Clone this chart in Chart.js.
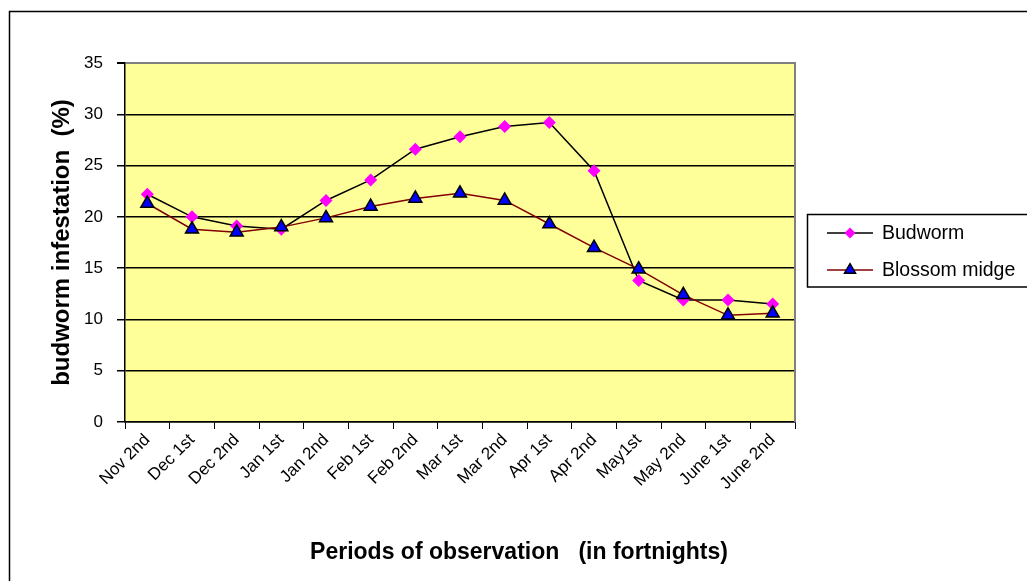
<!DOCTYPE html>
<html>
<head>
<meta charset="utf-8">
<title>Budworm infestation</title>
<script src="https://cdn.jsdelivr.net/npm/chart.js@4.4.1/dist/chart.umd.min.js"></script>
<style>
  html, body { margin: 0; padding: 0; background: #ffffff; }
  #wrap { width: 1027px; height: 581px; }
</style>
</head>
<body>
<div id="wrap"><canvas id="budwormChart" width="1027" height="581"></canvas></div>
<script>
// Categories (fortnights) and series values
const periods = ['Nov 2nd', 'Dec 1st', 'Dec 2nd', 'Jan 1st', 'Jan 2nd', 'Feb 1st', 'Feb 2nd', 'Mar 1st',
  'Mar 2nd', 'Apr 1st', 'Apr 2nd', 'May1st', 'May 2nd', 'June 1st', 'June 2nd'];
const budworm = [22.2, 20.0, 19.1, 18.8, 21.6, 23.6, 26.6, 27.8, 28.8, 29.2, 24.5, 13.8, 11.9, 11.9, 11.5];
const blossomMidge = [21.3, 18.8, 18.5, 19.0, 19.9, 21.0, 21.8, 22.3, 21.6, 19.3, 17.0, 14.9, 12.4, 10.4, 10.6];
const yTicks = [0, 5, 10, 15, 20, 25, 30, 35];
const xTitle = 'Periods of observation   (in fortnights)';
const yTitle = 'budworm infestation  (%)';

const FONT = 'Arial, "Liberation Sans", sans-serif';

// Plugin for the outer frame, the yellow plot area, the x title and the legend box
const framePlugin = {
  id: 'frame',
  beforeDraw(chart) {
    const { ctx, chartArea } = chart;
    ctx.save();
    ctx.fillStyle = '#ffffff';
    ctx.fillRect(0, 0, chart.width, chart.height);
    // outer chart border (runs off the right and bottom edge)
    ctx.strokeStyle = '#000000';
    ctx.lineWidth = 1.5;
    ctx.strokeRect(9.5, 11.5, 1200, 800);
    // plot background
    ctx.fillStyle = '#FFFF99';
    ctx.fillRect(chartArea.left, chartArea.top, chartArea.right - chartArea.left, chartArea.bottom - chartArea.top);
    ctx.restore();
  },
  beforeDatasetsDraw(chart) {
    const { ctx, chartArea } = chart;
    // grey right edge of the plot area
    ctx.save();
    ctx.strokeStyle = '#808080';
    ctx.lineWidth = 2;
    ctx.beginPath();
    ctx.moveTo(chartArea.right, chartArea.top - 1);
    ctx.lineTo(chartArea.right, chartArea.bottom);
    ctx.stroke();
    ctx.restore();
  },
  afterDraw(chart) {
    const { ctx } = chart;
    ctx.save();
    // x axis title (sits right of the plot centre in the original)
    ctx.fillStyle = '#000000';
    ctx.font = 'bold 23px ' + FONT;
    ctx.textAlign = 'center';
    ctx.textBaseline = 'middle';
    ctx.fillText(xTitle, 519, 553);

    // legend box
    ctx.strokeStyle = '#000000';
    ctx.lineWidth = 1.5;
    ctx.strokeRect(807.5, 214.5, 400, 72.5);
    const rows = [233, 270];
    chart.data.datasets.forEach((ds, i) => {
      const y = rows[i];
      ctx.strokeStyle = ds.borderColor;
      ctx.lineWidth = ds.borderWidth;
      ctx.beginPath();
      ctx.moveTo(827, y);
      ctx.lineTo(873, y);
      ctx.stroke();
      // marker
      ctx.fillStyle = ds.pointBackgroundColor;
      ctx.strokeStyle = ds.pointBorderColor;
      ctx.lineWidth = ds.pointBorderWidth;
      Chart.helpers.drawPoint(ctx, {
        pointStyle: ds.pointStyle,
        radius: ds.pointRadius * 0.85,
        borderWidth: ds.pointBorderWidth
      }, 850, y);
      // label
      ctx.fillStyle = '#000000';
      ctx.font = '19.5px ' + FONT;
      ctx.textBaseline = 'middle';
      ctx.textAlign = 'left';
      ctx.fillText(ds.label, 882, y + 1);
    });
    ctx.restore();
  }
};

// Creating the chart
const ctx = document.getElementById('budwormChart');
new Chart(ctx, {
  type: 'line',
  data: {
    labels: periods,
    datasets: [
      {
        label: 'Budworm',
        data: budworm,
        order: 1,
        borderColor: '#000000',
        borderWidth: 1.5,
        tension: 0,
        pointStyle: 'rectRot',
        pointRadius: 6.5,
        pointBackgroundColor: '#FF00FF',
        pointBorderColor: '#FF00FF',
        pointBorderWidth: 0,
      },
      {
        label: 'Blossom midge',
        data: blossomMidge,
        order: 0, // drawn on top of the budworm series, like the original
        borderColor: '#800000',
        borderWidth: 1.5,
        tension: 0,
        pointStyle: 'triangle',
        pointRadius: 7.5,
        pointBackgroundColor: '#0000FF',
        pointBorderColor: '#000000',
        pointBorderWidth: 1.5,
      },
    ],
  },
  options: {
    responsive: false,
    animation: false,
    events: [],
    layout: { padding: { top: 63, right: 232, left: 0, bottom: 0 } },
    plugins: {
      legend: { display: false },
      tooltip: { enabled: false },
    },
    scales: {
      x: {
        offset: true,
        grid: { offset: true, drawOnChartArea: false, drawTicks: true, tickLength: 7, color: '#000000', lineWidth: 1 },
        border: { display: true, color: '#000000', width: 1.5 },
        ticks: {
          autoSkip: false,
          maxRotation: 45,
          minRotation: 45,
          padding: 1,
          color: '#000000',
          font: { family: FONT, size: 17 },
        },
        title: { display: false, text: xTitle },
        afterFit(scale) { scale.height = 159; },
      },
      y: {
        min: 0,
        max: 35,
        afterBuildTicks(scale) { scale.ticks = yTicks.map((v) => ({ value: v })); },
        grid: {
          color: (c) => (c.tick && c.tick.value === 35 ? '#808080' : '#000000'),
          lineWidth: (c) => (c.tick && c.tick.value === 35 ? 2 : 1.5),
          tickColor: '#000000',
          tickLength: 8,
        },
        border: { display: true, color: '#000000', width: 1.5 },
        ticks: {
          padding: 14,
          color: '#000000',
          font: { family: FONT, size: 17 },
        },
        title: {
          display: true,
          text: yTitle,
          color: '#000000',
          font: { family: FONT, size: 24, weight: 'bold' },
          padding: { top: 48, bottom: 0 },
        },
        afterFit(scale) { scale.width = 125; },
      },
    },
  },
  plugins: [framePlugin],
});
</script>
</body>
</html>
